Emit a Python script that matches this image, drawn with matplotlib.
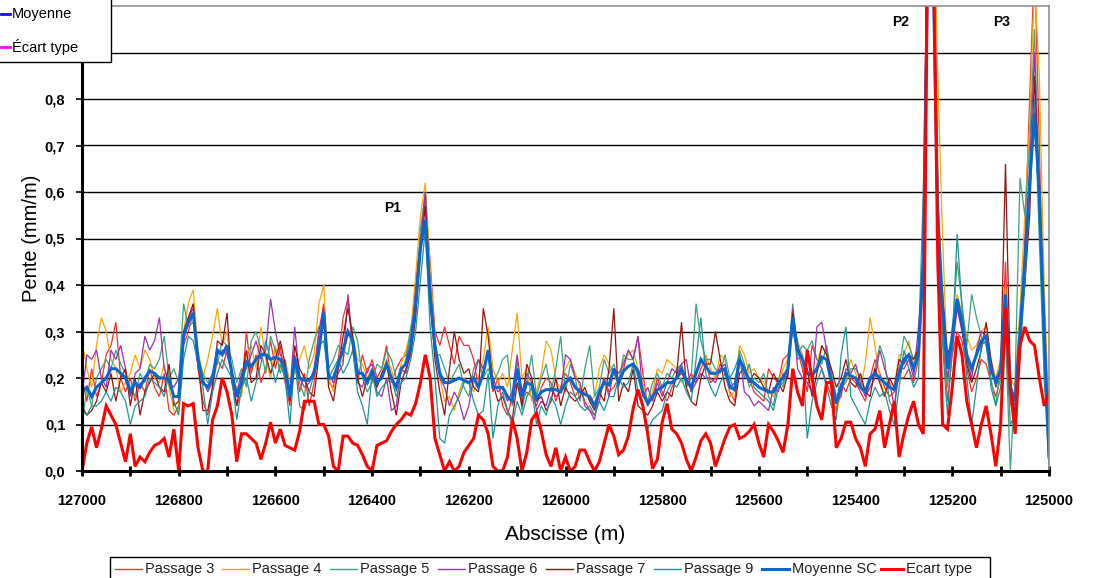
import numpy as np
import matplotlib
matplotlib.use("Agg")
import matplotlib.pyplot as plt
from matplotlib.lines import Line2D
from matplotlib.patches import Rectangle
from matplotlib.ticker import FixedLocator, FuncFormatter

plt.rcParams['font.family'] = ['Liberation Sans', 'DejaVu Sans']

# ---------------- data ----------------
x_start = 127000
x_step = -10
n_pts = 201
abscisse = [x_start + x_step * i for i in range(n_pts)]

moyenne_sc = [
    0.17, 0.18, 0.16, 0.18, 0.19, 0.20, 0.22, 0.22, 0.21, 0.20,
    0.17, 0.19, 0.18, 0.20, 0.215, 0.21, 0.20, 0.20, 0.195, 0.16,
    0.16, 0.29, 0.32, 0.34, 0.24, 0.19, 0.18, 0.20, 0.26, 0.25,
    0.27, 0.21, 0.16, 0.19, 0.235, 0.225, 0.24, 0.25, 0.25, 0.24,
    0.245, 0.24, 0.22, 0.16, 0.245, 0.20, 0.195, 0.195, 0.21, 0.26,
    0.34, 0.20, 0.20, 0.23, 0.26, 0.30, 0.28, 0.21, 0.21, 0.19,
    0.215, 0.19, 0.20, 0.23, 0.20, 0.18, 0.22, 0.23, 0.27, 0.36,
    0.48, 0.54, 0.38, 0.27, 0.21, 0.19, 0.19, 0.195, 0.20, 0.195,
    0.19, 0.20, 0.18, 0.21, 0.26, 0.18, 0.18, 0.18, 0.16, 0.15,
    0.22, 0.16, 0.19, 0.185, 0.155, 0.17, 0.175, 0.175, 0.175, 0.17,
    0.19, 0.20, 0.18, 0.17, 0.165, 0.16, 0.14, 0.17, 0.19, 0.185,
    0.22, 0.19, 0.215, 0.225, 0.23, 0.215, 0.17, 0.145, 0.16, 0.175,
    0.18, 0.19, 0.19, 0.20, 0.22, 0.195, 0.18, 0.21, 0.24, 0.225,
    0.21, 0.21, 0.215, 0.22, 0.18, 0.175, 0.24, 0.22, 0.195, 0.19,
    0.18, 0.175, 0.17, 0.17, 0.19, 0.20, 0.22, 0.33, 0.26, 0.24,
    0.21, 0.205, 0.22, 0.245, 0.24, 0.19, 0.145, 0.18, 0.21, 0.205,
    0.20, 0.18, 0.17, 0.20, 0.21, 0.20, 0.19, 0.18, 0.175, 0.21,
    0.24, 0.25, 0.22, 0.25, 0.45, 1.15, 1.10, 0.55, 0.35, 0.22,
    0.29, 0.37, 0.32, 0.25, 0.22, 0.25, 0.28, 0.29, 0.22, 0.19,
    0.22, 0.38, 0.18, 0.15, 0.30, 0.45, 0.62, 0.77, 0.60, 0.30, 0.03,
]

ecart_type = [
    0.0, 0.06, 0.095, 0.05, 0.09, 0.14, 0.12, 0.10, 0.06, 0.02,
    0.08, 0.01, 0.03, 0.02, 0.04, 0.055, 0.06, 0.07, 0.03, 0.09,
    0.0, 0.145, 0.14, 0.145, 0.05, 0.0, 0.0, 0.11, 0.14, 0.20,
    0.17, 0.12, 0.02, 0.08, 0.08, 0.07, 0.06, 0.025, 0.06, 0.105,
    0.06, 0.09, 0.055, 0.05, 0.045, 0.085, 0.15, 0.15, 0.15, 0.10,
    0.10, 0.075, 0.01, 0.0, 0.075, 0.075, 0.06, 0.055, 0.035, 0.01,
    0.0, 0.055, 0.06, 0.065, 0.085, 0.10, 0.11, 0.125, 0.12, 0.145,
    0.19, 0.25, 0.20, 0.07, 0.035, 0.0, 0.02, 0.0, 0.01, 0.04,
    0.055, 0.07, 0.12, 0.11, 0.08, 0.01, 0.0, 0.0, 0.03, 0.11,
    0.07, 0.0, 0.04, 0.11, 0.125, 0.085, 0.035, 0.01, 0.05, 0.0,
    0.03, 0.0, 0.01, 0.045, 0.045, 0.02, 0.0, 0.02, 0.06, 0.10,
    0.075, 0.035, 0.045, 0.075, 0.135, 0.175, 0.14, 0.08, 0.005, 0.025,
    0.105, 0.145, 0.09, 0.08, 0.06, 0.025, 0.0, 0.03, 0.065, 0.08,
    0.06, 0.01, 0.04, 0.07, 0.095, 0.10, 0.07, 0.075, 0.085, 0.10,
    0.06, 0.03, 0.10, 0.085, 0.065, 0.04, 0.10, 0.22, 0.17, 0.14,
    0.26, 0.20, 0.14, 0.11, 0.19, 0.19, 0.05, 0.07, 0.105, 0.105,
    0.07, 0.05, 0.01, 0.08, 0.09, 0.13, 0.05, 0.10, 0.15, 0.03,
    0.08, 0.12, 0.15, 0.10, 0.08, 1.30, 1.20, 0.45, 0.10, 0.09,
    0.18, 0.29, 0.25, 0.15, 0.10, 0.05, 0.10, 0.14, 0.08, 0.01,
    0.10, 0.35, 0.18, 0.08, 0.27, 0.31, 0.28, 0.27, 0.20, 0.14, 0.17,
]

passage_3 = [
    0.20, 0.15, 0.22, 0.16, 0.19, 0.25, 0.27, 0.32, 0.20, 0.17,
    0.20, 0.15, 0.19, 0.17, 0.22, 0.18, 0.16, 0.21, 0.13, 0.12,
    0.14, 0.27, 0.30, 0.34, 0.22, 0.15, 0.12, 0.18, 0.24, 0.22,
    0.26, 0.22, 0.14, 0.17, 0.30, 0.21, 0.25, 0.19, 0.22, 0.28,
    0.22, 0.27, 0.19, 0.14, 0.25, 0.17, 0.21, 0.14, 0.19, 0.30,
    0.36, 0.19, 0.18, 0.24, 0.33, 0.37, 0.26, 0.19, 0.25, 0.21,
    0.24, 0.20, 0.22, 0.27, 0.19, 0.22, 0.24, 0.25, 0.29, 0.40,
    0.50, 0.58, 0.45, 0.30, 0.27, 0.31, 0.27, 0.23, 0.29, 0.27,
    0.27, 0.24, 0.18, 0.21, 0.26, 0.17, 0.20, 0.14, 0.12, 0.16,
    0.21, 0.15, 0.17, 0.16, 0.14, 0.18, 0.20, 0.19, 0.15, 0.18,
    0.21, 0.19, 0.16, 0.18, 0.15, 0.13, 0.12, 0.15, 0.20, 0.17,
    0.18, 0.20, 0.22, 0.26, 0.24, 0.29, 0.21, 0.14, 0.16, 0.20,
    0.17, 0.15, 0.18, 0.20, 0.21, 0.19, 0.21, 0.19, 0.22, 0.24,
    0.19, 0.20, 0.23, 0.21, 0.17, 0.15, 0.24, 0.21, 0.20, 0.17,
    0.16, 0.15, 0.22, 0.20, 0.19, 0.24, 0.25, 0.30, 0.26, 0.22,
    0.17, 0.27, 0.24, 0.22, 0.19, 0.16, 0.13, 0.19, 0.17, 0.20,
    0.19, 0.17, 0.15, 0.20, 0.24, 0.21, 0.18, 0.16, 0.17, 0.20,
    0.20, 0.22, 0.19, 0.24, 0.45, 1.40, 1.20, 0.50, 0.30, 0.15,
    0.25, 0.30, 0.28, 0.22, 0.17, 0.20, 0.24, 0.23, 0.19, 0.16,
    0.20, 0.45, 0.15, 0.10, 0.25, 0.50, 0.80, 1.10, 0.70, 0.25, 0.05,
]

passage_4 = [
    0.28, 0.22, 0.18, 0.27, 0.33, 0.30, 0.24, 0.22, 0.17, 0.19,
    0.21, 0.25, 0.22, 0.26, 0.24, 0.20, 0.19, 0.23, 0.18, 0.13,
    0.13, 0.30, 0.36, 0.39, 0.26, 0.20, 0.24, 0.29, 0.35, 0.27,
    0.30, 0.20, 0.18, 0.16, 0.25, 0.27, 0.22, 0.31, 0.24, 0.20,
    0.27, 0.22, 0.24, 0.19, 0.21, 0.24, 0.27, 0.22, 0.25, 0.36,
    0.40, 0.20, 0.17, 0.22, 0.24, 0.30, 0.29, 0.24, 0.23, 0.20,
    0.22, 0.18, 0.21, 0.24, 0.22, 0.17, 0.23, 0.26, 0.30, 0.42,
    0.55, 0.62, 0.44, 0.28, 0.20, 0.15, 0.16, 0.13, 0.17, 0.20,
    0.19, 0.17, 0.20, 0.24, 0.31, 0.22, 0.19, 0.21, 0.18, 0.26,
    0.34, 0.20, 0.22, 0.15, 0.17, 0.21, 0.28, 0.26, 0.20, 0.17,
    0.22, 0.24, 0.21, 0.18, 0.17, 0.15, 0.16, 0.22, 0.25, 0.23,
    0.21, 0.18, 0.24, 0.25, 0.26, 0.22, 0.19, 0.15, 0.17, 0.22,
    0.21, 0.24, 0.23, 0.22, 0.19, 0.20, 0.17, 0.21, 0.23, 0.25,
    0.22, 0.20, 0.25, 0.24, 0.16, 0.17, 0.27, 0.25, 0.21, 0.22,
    0.20, 0.19, 0.17, 0.16, 0.19, 0.22, 0.24, 0.33, 0.28, 0.25,
    0.21, 0.19, 0.23, 0.27, 0.25, 0.18, 0.12, 0.17, 0.20, 0.24,
    0.21, 0.18, 0.23, 0.33, 0.27, 0.20, 0.16, 0.19, 0.18, 0.25,
    0.25, 0.28, 0.23, 0.26, 0.40, 1.25, 1.30, 0.85, 0.50, 0.22,
    0.31, 0.38, 0.34, 0.29, 0.26, 0.27, 0.30, 0.31, 0.24, 0.20,
    0.24, 0.40, 0.20, 0.18, 0.35, 0.55, 0.75, 1.05, 0.85, 0.40, 0.10,
]

passage_5 = [
    0.10, 0.18, 0.14, 0.20, 0.22, 0.24, 0.22, 0.26, 0.23, 0.21,
    0.18, 0.16, 0.21, 0.19, 0.23, 0.22, 0.24, 0.29, 0.20, 0.22,
    0.19, 0.36, 0.31, 0.32, 0.25, 0.21, 0.19, 0.21, 0.23, 0.28,
    0.27, 0.24, 0.19, 0.22, 0.18, 0.28, 0.30, 0.26, 0.21, 0.29,
    0.26, 0.21, 0.24, 0.16, 0.23, 0.19, 0.16, 0.24, 0.28, 0.31,
    0.32, 0.22, 0.24, 0.27, 0.26, 0.25, 0.31, 0.28, 0.20, 0.17,
    0.19, 0.23, 0.22, 0.26, 0.24, 0.20, 0.21, 0.24, 0.31, 0.35,
    0.52, 0.60, 0.36, 0.25, 0.25, 0.22, 0.19, 0.21, 0.23, 0.18,
    0.16, 0.22, 0.24, 0.20, 0.22, 0.19, 0.21, 0.24, 0.25, 0.14,
    0.24, 0.13, 0.19, 0.25, 0.16, 0.20, 0.23, 0.17, 0.22, 0.29,
    0.17, 0.23, 0.20, 0.15, 0.22, 0.27, 0.16, 0.18, 0.24, 0.21,
    0.23, 0.19, 0.25, 0.24, 0.24, 0.20, 0.16, 0.15, 0.19, 0.21,
    0.18, 0.21, 0.20, 0.22, 0.23, 0.18, 0.20, 0.36, 0.28, 0.24,
    0.24, 0.22, 0.21, 0.25, 0.20, 0.17, 0.26, 0.23, 0.18, 0.20,
    0.19, 0.21, 0.16, 0.14, 0.20, 0.18, 0.23, 0.36, 0.25, 0.27,
    0.26, 0.28, 0.24, 0.23, 0.27, 0.21, 0.16, 0.18, 0.19, 0.22,
    0.22, 0.20, 0.17, 0.19, 0.22, 0.27, 0.24, 0.15, 0.13, 0.22,
    0.29, 0.27, 0.24, 0.27, 0.60, 1.20, 1.10, 0.55, 0.32, 0.18,
    0.30, 0.45, 0.36, 0.27, 0.38, 0.33, 0.29, 0.27, 0.20, 0.14,
    0.23, 0.30, 0.00, 0.20, 0.63, 0.55, 0.70, 0.95, 0.60, 0.30, 0.02,
]

passage_6 = [
    0.16, 0.25, 0.24, 0.26, 0.20, 0.18, 0.26, 0.24, 0.27, 0.22,
    0.16, 0.21, 0.22, 0.29, 0.26, 0.28, 0.33, 0.22, 0.19, 0.18,
    0.20, 0.28, 0.33, 0.35, 0.22, 0.20, 0.17, 0.19, 0.25, 0.26,
    0.25, 0.21, 0.17, 0.21, 0.22, 0.25, 0.28, 0.24, 0.26, 0.37,
    0.30, 0.25, 0.23, 0.17, 0.31, 0.20, 0.18, 0.19, 0.22, 0.30,
    0.35, 0.21, 0.19, 0.21, 0.23, 0.38, 0.27, 0.19, 0.18, 0.22,
    0.23, 0.17, 0.16, 0.20, 0.13, 0.14, 0.22, 0.21, 0.26, 0.38,
    0.49, 0.60, 0.40, 0.26, 0.20, 0.18, 0.14, 0.17, 0.15, 0.11,
    0.14, 0.20, 0.24, 0.22, 0.26, 0.20, 0.17, 0.18, 0.15, 0.17,
    0.25, 0.17, 0.21, 0.19, 0.13, 0.15, 0.14, 0.18, 0.16, 0.17,
    0.25, 0.24, 0.20, 0.19, 0.14, 0.13, 0.11, 0.17, 0.20, 0.16,
    0.22, 0.21, 0.23, 0.26, 0.24, 0.29, 0.16, 0.18, 0.15, 0.19,
    0.16, 0.19, 0.22, 0.21, 0.23, 0.24, 0.17, 0.19, 0.21, 0.20,
    0.20, 0.19, 0.22, 0.23, 0.18, 0.19, 0.25, 0.17, 0.16, 0.14,
    0.15, 0.14, 0.13, 0.18, 0.17, 0.21, 0.20, 0.35, 0.22, 0.20,
    0.19, 0.17, 0.31, 0.32, 0.26, 0.20, 0.15, 0.16, 0.22, 0.21,
    0.23, 0.19, 0.16, 0.18, 0.20, 0.26, 0.22, 0.19, 0.14, 0.22,
    0.22, 0.24, 0.20, 0.31, 0.42, 1.15, 1.20, 0.60, 0.35, 0.20,
    0.26, 0.35, 0.30, 0.24, 0.20, 0.26, 0.30, 0.29, 0.21, 0.20,
    0.21, 0.35, 0.16, 0.14, 0.28, 0.45, 0.65, 0.90, 0.55, 0.35, 0.05,
]

passage_7 = [
    0.14, 0.12, 0.13, 0.15, 0.19, 0.17, 0.21, 0.15, 0.20, 0.22,
    0.14, 0.20, 0.12, 0.17, 0.19, 0.21, 0.18, 0.17, 0.23, 0.14,
    0.15, 0.30, 0.33, 0.36, 0.24, 0.13, 0.13, 0.18, 0.28, 0.27,
    0.34, 0.19, 0.14, 0.20, 0.26, 0.19, 0.20, 0.27, 0.25, 0.21,
    0.24, 0.28, 0.23, 0.15, 0.27, 0.22, 0.20, 0.17, 0.16, 0.25,
    0.33, 0.18, 0.15, 0.22, 0.29, 0.35, 0.29, 0.20, 0.16, 0.20,
    0.20, 0.18, 0.21, 0.23, 0.17, 0.12, 0.19, 0.22, 0.25, 0.33,
    0.47, 0.57, 0.37, 0.24, 0.17, 0.12, 0.22, 0.30, 0.24, 0.21,
    0.22, 0.18, 0.17, 0.35, 0.29, 0.19, 0.15, 0.16, 0.13, 0.11,
    0.19, 0.14, 0.23, 0.20, 0.15, 0.16, 0.13, 0.15, 0.20, 0.14,
    0.18, 0.16, 0.15, 0.16, 0.18, 0.15, 0.13, 0.17, 0.15, 0.22,
    0.35, 0.15, 0.19, 0.17, 0.22, 0.14, 0.13, 0.12, 0.14, 0.17,
    0.15, 0.17, 0.16, 0.21, 0.32, 0.18, 0.15, 0.14, 0.20, 0.23,
    0.23, 0.30, 0.24, 0.18, 0.15, 0.14, 0.21, 0.22, 0.19, 0.21,
    0.20, 0.18, 0.17, 0.21, 0.19, 0.17, 0.21, 0.34, 0.27, 0.24,
    0.22, 0.16, 0.21, 0.27, 0.25, 0.22, 0.18, 0.20, 0.24, 0.19,
    0.18, 0.21, 0.17, 0.16, 0.22, 0.19, 0.16, 0.20, 0.18, 0.24,
    0.23, 0.25, 0.24, 0.26, 0.48, 1.30, 1.15, 0.50, 0.38, 0.25,
    0.28, 0.36, 0.31, 0.23, 0.19, 0.22, 0.26, 0.32, 0.24, 0.18,
    0.22, 0.66, 0.20, 0.12, 0.30, 0.40, 0.55, 0.85, 0.60, 0.25, 0.02,
]

passage_9 = [
    0.13, 0.12, 0.14, 0.14, 0.15, 0.17, 0.15, 0.18, 0.17, 0.15,
    0.10, 0.14, 0.15, 0.16, 0.20, 0.19, 0.18, 0.16, 0.21, 0.15,
    0.12, 0.24, 0.29, 0.28, 0.23, 0.18, 0.10, 0.17, 0.21, 0.24,
    0.22, 0.20, 0.11, 0.18, 0.20, 0.15, 0.19, 0.23, 0.28, 0.24,
    0.19, 0.23, 0.20, 0.10, 0.24, 0.14, 0.13, 0.17, 0.21, 0.27,
    0.28, 0.20, 0.22, 0.24, 0.21, 0.23, 0.26, 0.17, 0.14, 0.10,
    0.21, 0.16, 0.18, 0.19, 0.20, 0.16, 0.19, 0.20, 0.24, 0.30,
    0.41, 0.52, 0.31, 0.20, 0.07, 0.06, 0.12, 0.14, 0.16, 0.19,
    0.19, 0.15, 0.12, 0.13, 0.21, 0.07, 0.14, 0.17, 0.13, 0.10,
    0.15, 0.12, 0.16, 0.18, 0.10, 0.14, 0.12, 0.16, 0.14, 0.10,
    0.14, 0.17, 0.16, 0.14, 0.13, 0.14, 0.12, 0.15, 0.13, 0.16,
    0.16, 0.20, 0.18, 0.19, 0.23, 0.17, 0.14, 0.09, 0.11, 0.12,
    0.13, 0.17, 0.19, 0.18, 0.20, 0.17, 0.15, 0.24, 0.33, 0.21,
    0.18, 0.16, 0.19, 0.21, 0.20, 0.22, 0.25, 0.20, 0.23, 0.18,
    0.17, 0.16, 0.15, 0.13, 0.18, 0.19, 0.22, 0.31, 0.24, 0.25,
    0.07, 0.15, 0.19, 0.22, 0.18, 0.14, 0.11, 0.25, 0.31, 0.16,
    0.14, 0.12, 0.10, 0.15, 0.18, 0.16, 0.17, 0.13, 0.10, 0.18,
    0.26, 0.22, 0.18, 0.20, 0.50, 1.10, 1.05, 0.48, 0.27, 0.12,
    0.27, 0.51, 0.35, 0.20, 0.10, 0.18, 0.27, 0.28, 0.18, 0.14,
    0.18, 0.30, 0.10, 0.12, 0.25, 0.40, 0.60, 0.80, 0.50, 0.20, 0.01,
]

series_labels = ["Passage 3", "Passage 4", "Passage 5", "Passage 6",
                 "Passage 7", "Passage 9", "Moyenne SC", "Ecart type"]
peak_labels = ["P1", "P2", "P3"]
peak_x = [126357, 125308, 125099]
y_tick_values = [0.0, 0.1, 0.2, 0.3, 0.4, 0.5, 0.6, 0.7, 0.8]
x_tick_values = list(range(127000, 124999, -200))

# ---------------- styles ----------------
colors = ["#FF2A2A", "#FFA500", "#3AA57A", "#9B30B0", "#9A1010", "#1A9696",
          "#0A66CC", "#FF0000"]
widths = [0.9, 0.9, 0.9, 0.9, 0.9, 0.9, 2.2, 2.2]

W, H = 1095, 578
fig = plt.figure(figsize=(W / 100, H / 100), dpi=100)
ax = fig.add_axes([82 / W, (H - 471) / H, (1049 - 82) / W, (471 - 6) / H])

all_series = [passage_3, passage_4, passage_5, passage_6, passage_7, passage_9,
              moyenne_sc, ecart_type]
for s, c, w, lab in zip(all_series, colors, widths, series_labels):
    ax.plot(abscisse, s, color=c, lw=w, label=lab, solid_joinstyle='miter')

ax.set_xlim(127000, 125000)
ax.set_ylim(0, 1.0)

for yv in np.arange(0.1, 0.95, 0.1):
    ax.axhline(yv, color="black", lw=1.0, zorder=0.5)

ax.xaxis.set_major_locator(FixedLocator(x_tick_values))
ax.xaxis.set_minor_locator(FixedLocator(list(range(127000, 124999, -100))))
ax.xaxis.set_major_formatter(FuncFormatter(lambda v, p: f"{int(round(v))}"))
ax.yaxis.set_major_locator(FixedLocator(y_tick_values))
ax.yaxis.set_major_formatter(FuncFormatter(lambda v, p: f"{v:.1f}".replace(".", ",")))

ax.tick_params(axis='x', which='both', direction='inout', length=7, width=2,
               labelsize=10.5, pad=13)
ax.tick_params(axis='y', which='major', direction='out', length=4, width=1.2,
               labelsize=10.5, pad=8)
for lbl in ax.get_xticklabels() + ax.get_yticklabels():
    lbl.set_fontweight('bold')

ax.spines['left'].set_linewidth(2.2)
ax.spines['bottom'].set_linewidth(2.2)
ax.spines['top'].set_color('#909090')
ax.spines['right'].set_color('#909090')
ax.spines['top'].set_linewidth(1.2)
ax.spines['right'].set_linewidth(1.2)

ax.set_xlabel("Abscisse (m)", fontsize=15, labelpad=12)
ax.set_ylabel("Pente (mm/m)", fontsize=14.5, labelpad=3)

peak_y = [0.566, 0.966, 0.966]
for lab, px, py in zip(peak_labels, peak_x, peak_y):
    ax.text(px, py, lab, fontsize=10, fontweight='bold', ha='center', va='center')

# ---------------- top-left legend box ----------------
fig.add_artist(Rectangle((-2 / W, (H - 62) / H), 113 / W, 64 / H, transform=fig.transFigure,
                         facecolor='white', edgecolor='black', lw=1.0, zorder=10))
for ty, c, t in [(14, '#1010E0', 'Moyenne'), (47, '#FF00FF', 'Écart type')]:
    fig.add_artist(Line2D([1 / W, 10 / W], [(H - ty) / H] * 2, transform=fig.transFigure,
                          color=c, lw=2, zorder=11))
    fig.text(12 / W, (H - ty) / H, t, fontsize=10.5, ha='left', va='center', zorder=11)

# ---------------- bottom legend ----------------
fig.add_artist(Rectangle((110 / W, -5 / H), 880 / W, 26 / H, transform=fig.transFigure,
                         facecolor='white', edgecolor='black', lw=1.0, zorder=10))
leg_x = [115, 222, 330, 438, 546, 654, 762, 881]
leg_len = [27, 27, 27, 27, 27, 27, 27, 22]
for lx, ll, c, w, lab in zip(leg_x, leg_len, colors, widths, series_labels):
    yy = (H - 569) / H
    fig.add_artist(Line2D([lx / W, (lx + ll) / W], [yy, yy], transform=fig.transFigure,
                          color=c, lw=(1.0 if w < 2 else 2.2), zorder=11))
    fig.text((lx + ll + 3) / W, yy, lab, fontsize=10.5, ha='left', va='center', zorder=11,
             color='#202020')

fig.savefig("out.png", dpi=100)
